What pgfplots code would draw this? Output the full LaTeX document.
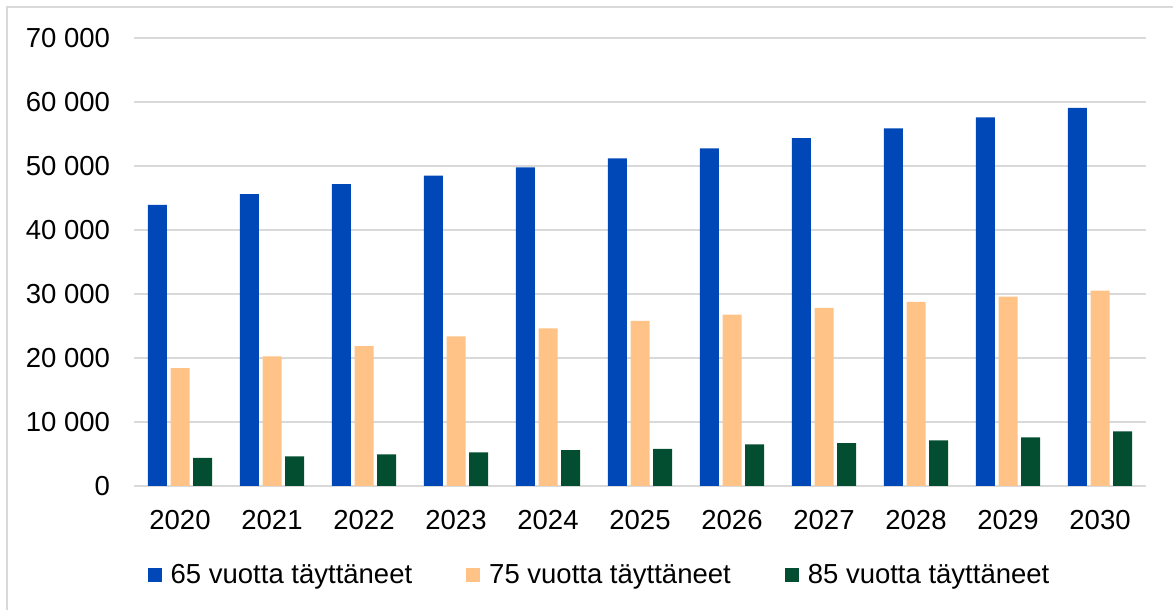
\documentclass[border=0pt]{standalone}
\usepackage{fontspec}
\setmainfont{Liberation Sans}
\usepackage{pgfplots}
\pgfplotsset{compat=1.18}
\definecolor{cblue}{RGB}{0,71,183}
\definecolor{corange}{RGB}{255,195,136}
\definecolor{cgreen}{RGB}{3,78,48}
\definecolor{cgrid}{RGB}{217,217,217}
\begin{document}
\begin{tikzpicture}
\useasboundingbox (0,0) rectangle (586.5pt,305pt);
\draw[cgrid, line width=1pt] (3.65pt,-10pt) -- (3.65pt,301.35pt) -- (600pt,301.35pt);
\begin{axis}[
  at={(67pt,62pt)}, anchor=south west,
  scale only axis, width=506pt, height=224pt,
  ybar=1.85pt, bar width=9.5pt,
  xmin=-0.5, xmax=10.5, ymin=0, ymax=70000,
  xtick={0,...,10},
  xticklabels={2020,2021,2022,2023,2024,2025,2026,2027,2028,2029,2030},
  ytick={0,10000,...,70000},
  yticklabels={0,10 000,20 000,30 000,40 000,50 000,60 000,70 000},
  scaled y ticks=false,
  axis x line*=bottom,
  axis y line*=left,
  axis line style={draw=none},
  ymajorgrids, grid style={cgrid, line width=1pt},
  major tick length=0pt,
  every tick label/.append style={font=\fontsize{13.75pt}{16pt}\selectfont, text=black},
  yticklabel style={anchor=east, xshift=-8.5pt},
  xticklabel style={yshift=-8.5pt},
  legend columns=3,
  legend style={at={(0.461,-0.199)}, anchor=center, draw=none,
    font=\fontsize{13.75pt}{16pt}\selectfont,
    /tikz/every even column/.append style={column sep=25pt},
    /tikz/every odd column/.append style={column sep=2.5pt},
    inner sep=0pt},
  legend image code/.code={\fill[#1] (0pt,-3.5pt) rectangle (7pt,3.5pt);},
]
\draw[cgrid, line width=1pt] (axis cs:-0.5,0) -- (axis cs:10.5,0);
\addplot[fill=cblue, draw=none] coordinates {(0,43930) (1,45590) (2,47150) (3,48490) (4,49790) (5,51190) (6,52750) (7,54360) (8,55870) (9,57580) (10,59090)};
\addplot[fill=corange, draw=none] coordinates {(0,18430) (1,20250) (2,21850) (3,23360) (4,24610) (5,25800) (6,26790) (7,27830) (8,28760) (9,29600) (10,30530)};
\addplot[fill=cgreen, draw=none] coordinates {(0,4410) (1,4620) (2,4930) (3,5240) (4,5610) (5,5810) (6,6490) (7,6700) (8,7110) (9,7580) (10,8520)};
\legend{65 vuotta täyttäneet, 75 vuotta täyttäneet, 85 vuotta täyttäneet}
\end{axis}
\end{tikzpicture}
\end{document}
